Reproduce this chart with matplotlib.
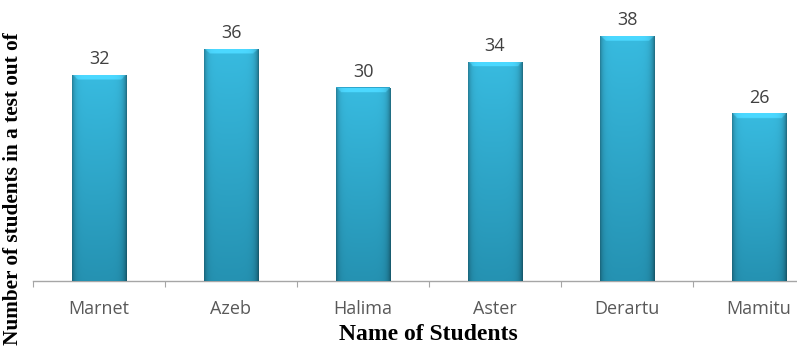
import numpy as np
import matplotlib
matplotlib.use("Agg")
import matplotlib.pyplot as plt
from matplotlib.colors import to_rgb

names = ["Marnet", "Azeb", "Halima", "Aster", "Derartu", "Mamitu"]
scores = [32, 36, 30, 34, 38, 26]
xlabel = "Name of Students"
ylabel = "Number of students in a test out of"

W, H = 797, 356
fig = plt.figure(figsize=(W / 100, H / 100), dpi=100)
left_px, right_px, base_px, top_px = 33, 825, 281, 9
ax = fig.add_axes([left_px / W, (H - base_px) / H, (right_px - left_px) / W, (base_px - top_px) / H])
ax.set_xlim(-0.5, len(names) - 0.5)
ymax = (base_px - top_px) / 6.45
ax.set_ylim(0, ymax)

x = np.arange(len(names))
bars = ax.bar(x, scores, width=0.41, color="#2ea6cc", edgecolor="none", zorder=2)

c_top = np.array(to_rgb("#38bbe0"))
c_bot = np.array(to_rgb("#2592b2"))
nx, ny = 60, 300
u = np.linspace(0, 1, nx)
edge = np.clip(1 - 0.30 * np.exp(-u / 0.05) - 0.40 * np.exp(-(1 - u) / 0.06), 0, 1)
for b in bars:
    x0, w, h = b.get_x(), b.get_width(), b.get_height()
    v = np.linspace(0, 1, ny)[:, None]
    base = c_bot[None, None, :] * (1 - v[..., None]) + c_top[None, None, :] * v[..., None]
    img = base * edge[None, :, None]
    hpx = h * 6.45
    wpx = w * 132
    # top bevel: lighter band with slanted corners
    dtop = (1 - v) * hpx  # px from top
    dl = u[None, :] * wpx
    dr = (1 - u[None, :]) * wpx
    bevel = (dtop < 5) & (dtop < dl) & (dtop < dr)
    light = np.minimum(img * 1.08 + 0.06, 1)
    img = np.where(bevel[..., None], light, img)
    im = ax.imshow(img, extent=[x0, x0 + w, 0, h], origin="lower", aspect="auto",
                   zorder=3, interpolation="bilinear")
    im.set_clip_path(b)
    ax.text(b.get_x() + w / 2, h + 1.0, str(int(h)), ha="center", va="bottom",
            fontsize=13, color="#404040", family="Open Sans", zorder=4)

ax.set_autoscale_on(False)
ax.set_xlim(-0.5, len(names) - 0.5)
ax.set_ylim(0, ymax)

for s in ["top", "right", "left"]:
    ax.spines[s].set_visible(False)
ax.spines["bottom"].set_color("#a6a6a6")
ax.spines["bottom"].set_linewidth(1.0)
ax.set_yticks([])
ax.set_xticks(np.arange(len(names) + 1) - 0.5, minor=False)
ax.set_xticklabels([])
ax.tick_params(axis="x", which="major", length=4, color="#a6a6a6", direction="out")
ax.set_xticks(x, minor=True)
ax.set_xticklabels(names, minor=True)
ax.tick_params(axis="x", which="minor", length=0, pad=14, labelsize=13, labelcolor="#595959")
for t in ax.get_xticklabels(minor=True):
    t.set_family("Open Sans")

fig.text(428 / W, 1 - 335 / H, xlabel, ha="center", va="center", fontsize=17,
         fontweight="bold", family="Liberation Serif")
fig.text(13 / W, 1 - 189 / H, ylabel, ha="center", va="center", rotation=90,
         fontsize=15.3, fontweight="bold", family="Liberation Serif")

fig.savefig("out.png", dpi=100)
